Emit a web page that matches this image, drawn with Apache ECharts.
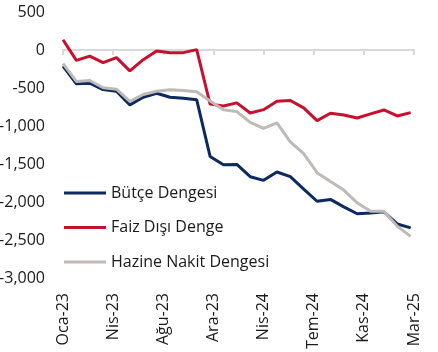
<!DOCTYPE html>
<html>
<head>
<meta charset="utf-8">
<script src="https://cdn.jsdelivr.net/npm/echarts@6/dist/echarts.min.js"></script>
<style>
    html, body {margin:0; padding:0; background:#fff;}
    #chartBox {width:438px; height:352px;}
</style>
</head>
<body>
<div id="chartBox"></div>
<script>
// aylar (Oca-23 .. Mar-25)
var monthList = ['Oca-23','Şub-23','Mar-23','Nis-23','May-23','Haz-23','Tem-23','Ağu-23','Eyl-23','Eki-23','Kas-23','Ara-23',
    'Oca-24','Şub-24','Mar-24','Nis-24','May-24','Haz-24','Tem-24','Ağu-24','Eyl-24','Eki-24','Kas-24','Ara-24',
    'Oca-25','Şub-25','Mar-25'];

var butceList = [-212,-445,-437,-520,-542,-722,-622,-569,-622,-635,-656,-1400,-1510,-1505,-1667,-1715,-1605,-1667,-1830,-1990,-1966,-2064,-2155,-2145,-2130,-2289,-2340];
var faizList = [135,-136,-81,-167,-101,-275,-127,-13,-35,-35,5,-712,-736,-696,-828,-785,-675,-665,-762,-930,-833,-855,-894,-841,-789,-868,-824];
var hazineList = [-180,-414,-401,-497,-516,-675,-586,-542,-524,-533,-550,-670,-785,-811,-953,-1030,-960,-1208,-1365,-1614,-1730,-1843,-2011,-2121,-2121,-2319,-2452];

var seriesNames = ['Bütçe Dengesi','Faiz Dışı Denge','Hazine Nakit Dengesi'];
var colorList = ['#0c2a5f','#c8102e','#bfbab5'];

var fontName = '"Open Sans", sans-serif';

function toPairs(arr) {
    var out = [];
    for (var i = 0; i < arr.length; i++) {
        out.push([i, arr[i]]);
    }
    return out;
}

function makeSeries(name, arr, color) {
    return {
        name: name, type: 'line', xAxisIndex: 0, yAxisIndex: 0,
        data: toPairs(arr),
        symbol: 'none', smooth: false, animation: false,
        lineStyle: {color: color, width: 3},
        itemStyle: {color: color}
    };
}

var myChart = echarts.init(document.getElementById('chartBox'));
var option = {
    animation: false,
    color: colorList,
    grid: {left: 63, right: 24, top: 12, bottom: 74, containLabel: false, outerBoundsMode: 'none'},
    legend: {
        orient: 'vertical', left: 64, top: 184, padding: 0, itemGap: 16.5,
        itemWidth: 42, itemHeight: 3, icon: 'rect',
        textStyle: {fontFamily: fontName, fontSize: 16, color: '#1a1a1a', lineHeight: 18},
        data: seriesNames
    },
    xAxis: [
        {   // cizgi sifirda
            type: 'value', min: 0, max: 26.25, interval: 3.75, position: 'bottom',
            axisLine: {show: true, onZero: true, lineStyle: {color: '#d9d9d9', width: 2}},
            axisTick: {show: true, length: 5, lineStyle: {color: '#d9d9d9', width: 2}},
            axisLabel: {show: false},
            splitLine: {show: false}
        },
        {   // etiketler altta
            type: 'value', min: 0, max: 26.25, interval: 3.75, position: 'bottom',
            axisLine: {show: false, onZero: false},
            axisTick: {show: false},
            splitLine: {show: false},
            axisLabel: {
                show: true, rotate: 90, margin: 15,
                fontFamily: fontName, fontSize: 16, color: '#1a1a1a',
                formatter: function (v) {
                    return monthList[Math.floor(v + 0.0001)] || '';
                }
            }
        }
    ],
    yAxis: {
        type: 'value', min: -3000, max: 500, interval: 500,
        axisLine: {show: false}, axisTick: {show: false}, splitLine: {show: false},
        axisLabel: {fontFamily: fontName, fontSize: 16, color: '#1a1a1a', margin: 18}
    },
    series: [
        makeSeries(seriesNames[0], butceList, colorList[0]),
        makeSeries(seriesNames[1], faizList, colorList[1]),
        makeSeries(seriesNames[2], hazineList, colorList[2])
    ]
};

myChart.setOption(option);
</script>
</body>
</html>
